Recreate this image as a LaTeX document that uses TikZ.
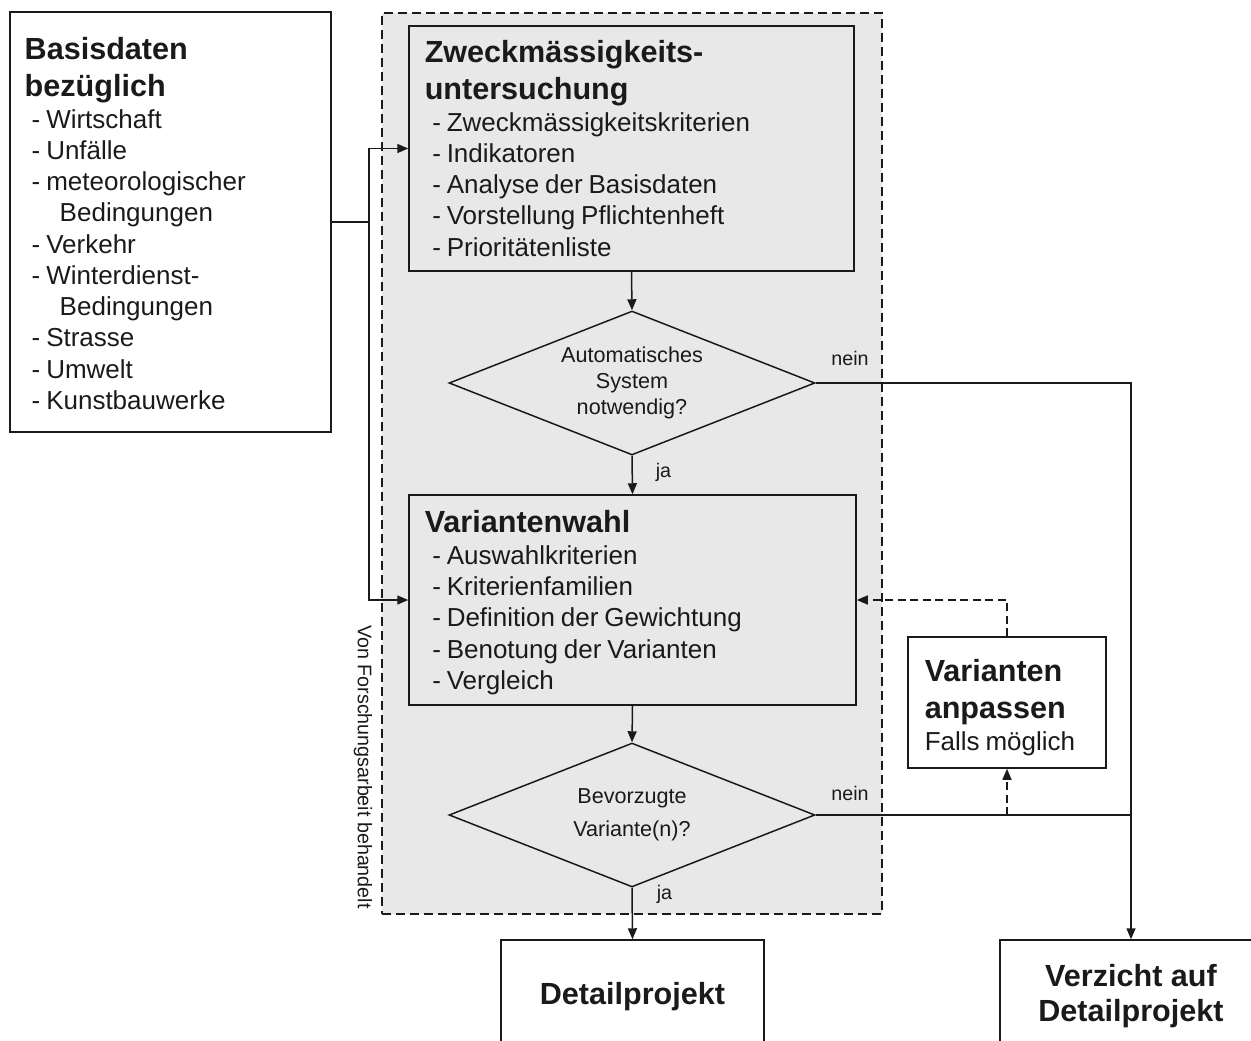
\documentclass[tikz,border=0pt]{standalone}
\usepackage{fontspec}
\setmainfont{Liberation Sans}
\usetikzlibrary{arrows.meta,calc,fit,shapes.geometric}
\definecolor{studiegrau}{HTML}{E8E8E8}
\definecolor{strich}{HTML}{1A1A1A}

\newcommand{\kopf}{\fontsize{17.4}{21}\selectfont\bfseries}
\newcommand{\punkt}{\fontsize{14.8}{17.8}\selectfont}
\newcommand{\fragefont}{\fontsize{12.3}{14.8}\selectfont}
\newcommand{\notizfont}{\fontsize{11.2}{13}\selectfont}

\begin{document}
\begin{tikzpicture}[x=0.02cm,y=-0.02cm,line width=0.03cm,draw=strich,text=strich]
    \tikzstyle{box}=[draw,inner sep=0]
    \tikzstyle{graybox}=[box,fill=studiegrau]
    \tikzstyle{entscheid}=[diamond,draw,fill=studiegrau,inner sep=0,aspect=2.5,
        minimum width=7.32cm,minimum height=2.88cm,align=center,font=\fragefont]
    \tikzstyle{txt}=[anchor=north west,inner sep=0,align=left,text width=8cm]
    \tikzstyle{pfeil}=[-{Triangle[length=0.22cm,width=0.18cm]}]
    \tikzstyle{strichpfeil}=[pfeil,dash pattern=on 0.16cm off 0.09cm]
    \tikzstyle{lbl}=[inner sep=0,font=\notizfont]
    \useasboundingbox (0,0) rectangle (1251,1041);

    % Bereich der Forschungsarbeit
    \node[fit={(382,13) (882,914)},inner sep=0,draw,fill=studiegrau,
        dash pattern=on 0.18cm off 0.1cm] (studie) {};
    \node[rotate=-90,font=\notizfont] (forschung) at (363,767) {Von Forschungsarbeit behandelt};

    % Basisdaten
    \node[box,fit={(10,12) (331,432)}] (basis) {};
    \node[txt] (basis-txt) at (24,37) {%
        {\kopf Basisdaten\\bezüglich\par}
        {\punkt\leftskip=0.14cm
        - Wirtschaft\\
        - Unfälle\\
        - meteorologischer\\
        \hspace*{0.56cm}Bedingungen\\
        - Verkehr\\
        - Winterdienst-\\
        \hspace*{0.56cm}Bedingungen\\
        - Strasse\\
        - Umwelt\\
        - Kunstbauwerke\par}};

    % Zweckmaessigkeit
    \node[graybox,fit={(409,26) (854,271)}] (zweck) {};
    \node[txt] (zweck-txt) at (424,40) {%
        {\kopf Zweckmässigkeits-\\untersuchung\par}
        {\punkt\leftskip=0.15cm
        - Zweckmässigkeitskriterien\\
        - Indikatoren\\
        - Analyse der Basisdaten\\
        - Vorstellung Pflichtenheft\\
        - Prioritätenliste\par}};
    \node[entscheid] (frage1) at (632,383) {Automatisches\\System\\notwendig?};

    % Variantenwahl
    \node[graybox,fit={(409,495) (856,705)}] (wahl) {};
    \node[txt] (wahl-txt) at (424,510) {%
        {\kopf Variantenwahl\par}
        {\punkt\leftskip=0.15cm
        - Auswahlkriterien\\
        - Kriterienfamilien\\
        - Definition der Gewichtung\\
        - Benotung der Varianten\\
        - Vergleich\par}};
    \node[entscheid,font={\fontsize{12.3}{18.8}\selectfont}] (frage2) at (632,815) {Bevorzugte\\Variante(n)?};

    \node[box,fill=white,fit={(908,637) (1106,768)}] (anpassen) {};
    \node[txt] (anpassen-txt) at (924,659) {%
        {\kopf Varianten\\anpassen\par}
        {\punkt Falls möglich\par}};

    % Ergebnisse
    \node[box,minimum width=5.26cm,minimum height=2.28cm,font=\kopf] (detail) at (632.5,997) {Detailprojekt};
    \node[box,minimum width=5.24cm,minimum height=2.26cm,font=\fontsize{17.4}{20}\selectfont\bfseries,
        align=center] (verzicht) at (1131,996.5) {Verzicht auf\\Detailprojekt};

    % Verbindungen
    \coordinate (verteiler) at (369,222);
    \draw (basis.east) -- (verteiler);
    \draw[pfeil] (verteiler) |- (zweck.west);
    \draw[pfeil] (verteiler) |- (wahl.west);
    \draw[pfeil] (zweck.south) -- (frage1.north);
    \draw[pfeil] (frage1.south) -- (wahl.north);
    \draw[pfeil] (wahl.south) -- (frage2.north);
    \draw[pfeil] (frage2.south) -- (detail.north);
    \draw[pfeil] (frage1.east) -| (verzicht.north);
    \draw (frage2.east) -- (frage2.east -| verzicht.north);
    \draw[strichpfeil] (frage2.east -| anpassen.south) -- (anpassen.south);
    \draw[strichpfeil] (anpassen.north) |- (wahl.east);

    \node[lbl,anchor=base west] (nein1) at ($(frage1.east)+(15,-18)$) {nein};
    \node[lbl,anchor=base west] (nein2) at ($(frage2.east)+(15,-15)$) {nein};
    \node[lbl,anchor=base west] (ja1) at ($(frage1.south)+(23,22)$) {ja};
    \node[lbl,anchor=base west] (ja2) at ($(frage2.south)+(24,12)$) {ja};
\end{tikzpicture}
\end{document}
